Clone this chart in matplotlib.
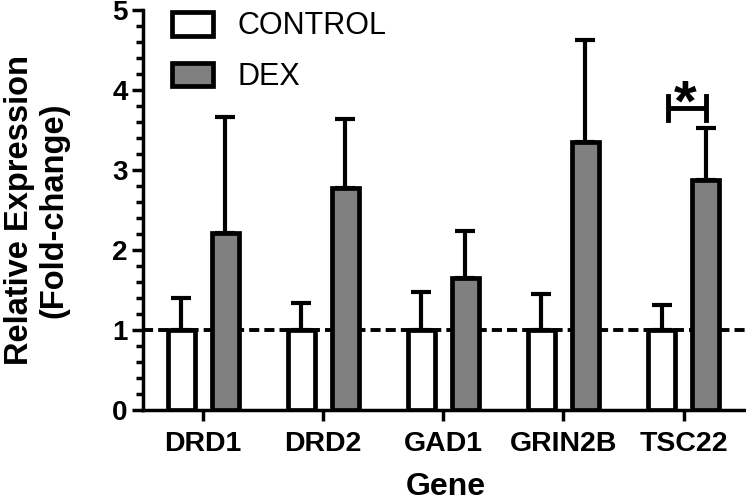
import numpy as np
import matplotlib
matplotlib.use("Agg")
import matplotlib.pyplot as plt
from matplotlib.ticker import MultipleLocator

plt.rcParams['font.family'] = ['Liberation Sans', 'DejaVu Sans']

# Data
genes = ["DRD1", "DRD2", "GAD1", "GRIN2B", "TSC22"]
control_mean = [1.0, 1.0, 1.0, 1.0, 1.0]
control_err = [0.40, 0.34, 0.48, 0.45, 0.31]
dex_mean = [2.21, 2.78, 1.65, 3.35, 2.88]
dex_err = [1.45, 0.86, 0.59, 1.27, 0.65]

x = np.arange(len(genes))
w = 0.225
off = 0.183

fig = plt.figure(figsize=(7.46, 5.04), dpi=100)
ax = fig.add_axes([0.1917, 0.1865, 0.8083, 0.7937])

lw = 3.4
ax.axhline(1, color='black', lw=2.8, ls=(0, (2.6, 1.3)), zorder=1)

ax.bar(x - off, control_mean, w, color='white', edgecolor='black', linewidth=lw,
       label='CONTROL', zorder=3)
ax.bar(x + off, dex_mean, w, color='#808080', edgecolor='black', linewidth=lw,
       label='DEX', zorder=3)
ax.errorbar(x - off, control_mean, yerr=[np.zeros(5), control_err], fmt='none',
            ecolor='black', elinewidth=3, capsize=7, capthick=3, zorder=2)
ax.errorbar(x + off, dex_mean, yerr=[np.zeros(5), dex_err], fmt='none',
            ecolor='black', elinewidth=3, capsize=7, capthick=3, zorder=2)

# significance bracket for TSC22
by = 3.77
xl, xr = 4 - off + 0.05, 4 + off
ax.plot([xl, xr], [by, by], color='black', lw=3.5, solid_capstyle='butt')
ax.plot([xl, xl], [by - 0.15, by + 0.15], color='black', lw=3.5)
ax.plot([xr, xr], [by - 0.15, by + 0.15], color='black', lw=3.5)
ax.text((xl + xr) / 2 - 0.01, 3.62, '*', ha='center', va='baseline', fontsize=42,
        fontweight='bold')

ax.set_xlim(-0.5, 4.52)
ax.set_ylim(0, 5)
ax.set_xticks(x)
ax.set_xticklabels(genes, fontsize=20.5, fontweight='bold')
ax.yaxis.set_major_locator(MultipleLocator(1))
ax.yaxis.set_minor_locator(MultipleLocator(0.2))
for lab in ax.get_yticklabels():
    lab.set_fontsize(20)
    lab.set_fontweight('bold')
ax.tick_params(axis='both', which='major', length=8, width=2.5, direction='out')
ax.tick_params(axis='x', which='major', pad=7)
ax.tick_params(axis='y', which='major', pad=3)
ax.tick_params(axis='y', which='minor', length=5, width=2.5)

ax.spines['top'].set_visible(False)
ax.spines['right'].set_visible(False)
ax.spines['left'].set_linewidth(2.5)
ax.spines['bottom'].set_linewidth(2.5)

ax.set_xlabel('Gene', fontsize=23, fontweight='bold')
ax.xaxis.set_label_coords(0.5025, -0.155)
ax.set_ylabel('Relative Expression\n(Fold-change)', fontsize=23.5, fontweight='bold',
              linespacing=1.15)
ax.yaxis.set_label_coords(-0.122, 0.5)

leg = ax.legend(loc='upper left', bbox_to_anchor=(0.002, 1.065), frameon=False,
                fontsize=22, handlelength=1.35, handleheight=0.8, handletextpad=0.8,
                labelspacing=0.68)

fig.savefig('out.png', dpi=100)
